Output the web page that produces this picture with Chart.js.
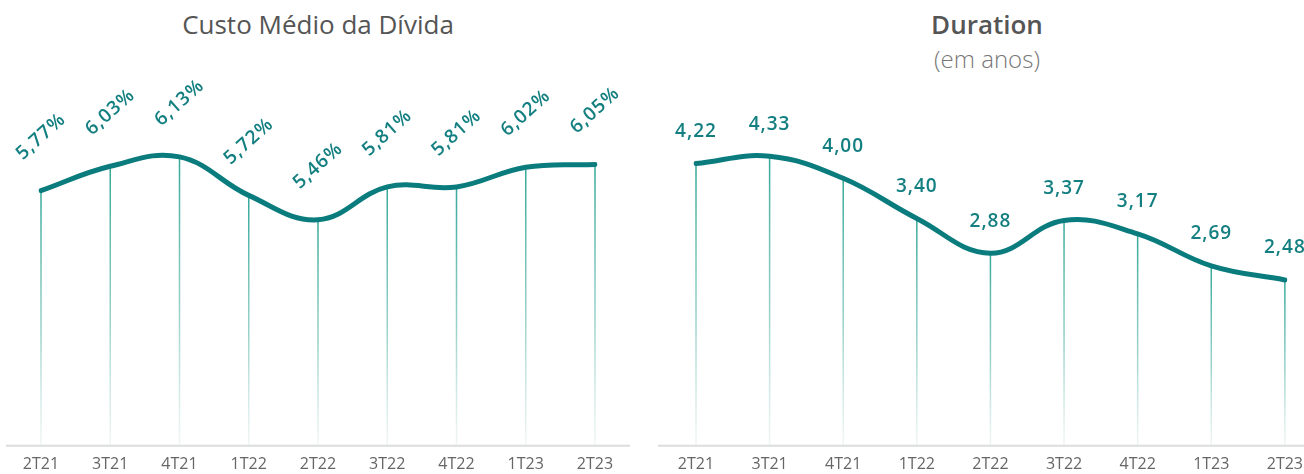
<!DOCTYPE html>
<html lang="pt-BR">
<head>
    <meta charset="UTF-8">
    <title>Custo Médio da Dívida / Duration</title>
    <script src="https://cdn.jsdelivr.net/npm/chart.js"></script>
    <style>
        body {
            margin: 0;
            background: #fff;
            font-family: "Open Sans", Arial, sans-serif;
            width: 1304px;
            height: 474px;
            position: relative;
            overflow: hidden;
        }
        .title {
            position: absolute;
            top: 6px;
            text-align: center;
            color: #555;
            font-size: 26px;
            line-height: 36px;
        }
        .title small {
            display: block;
            font-size: 24px;
            color: #777;
            font-weight: 300;
            line-height: 34px;
        }
        canvas {
            position: absolute;
            top: 0;
        }
    </style>
</head>
<body>
    <div class="title" style="left:0; width:636px;">Custo Médio da Dívida</div>
    <div class="title" style="left:660px; width:654px; font-weight:600;">Duration<small>(em anos)</small></div>

    <canvas id="custoChart" width="640" height="484" style="left:0;"></canvas>
    <canvas id="durationChart" width="662" height="484" style="left:650px;"></canvas>

    <script>
        // quarters on the x axis
        var quarters = ['2T21', '3T21', '4T21', '1T22', '2T22', '3T22', '4T22', '1T23', '2T23'];

        // custo medio da divida (%)
        var custoMedio = [5.77, 6.03, 6.13, 5.72, 5.46, 5.81, 5.81, 6.02, 6.05];

        // duration (anos)
        var duration = [4.22, 4.33, 4.00, 3.40, 2.88, 3.37, 3.17, 2.69, 2.48];

        var lineColor = '#0b7c7d';
        var labelColor = '#137f80';

        function fmt(v, dec) {
            return v.toFixed(dec).replace('.', ',');
        }

        // drop lines, baseline and value labels
        var decorPlugin = {
            id: 'decor',
            beforeDatasetsDraw: function (chart, args, opts) {
                var ctx = chart.ctx;
                var area = chart.chartArea;
                var meta = chart.getDatasetMeta(0);
                ctx.save();
                // baseline
                ctx.strokeStyle = '#dcdcdc';
                ctx.lineWidth = 2;
                ctx.beginPath();
                ctx.moveTo(opts.baseFrom, area.bottom);
                ctx.lineTo(opts.baseTo, area.bottom);
                ctx.stroke();
                // vertical lines
                meta.data.forEach(function (pt) {
                    var g = ctx.createLinearGradient(0, pt.y, 0, area.bottom);
                    g.addColorStop(0, 'rgba(52,168,152,1)');
                    g.addColorStop(0.55, 'rgba(120,195,185,0.75)');
                    g.addColorStop(1, 'rgba(225,238,236,0.5)');
                    ctx.strokeStyle = g;
                    ctx.lineWidth = 1.5;
                    ctx.beginPath();
                    ctx.moveTo(pt.x, pt.y);
                    ctx.lineTo(pt.x, area.bottom - 1);
                    ctx.stroke();
                });
                ctx.restore();
            },
            afterDatasetsDraw: function (chart, args, opts) {
                var ctx = chart.ctx;
                var meta = chart.getDatasetMeta(0);
                var values = chart.data.datasets[0].data;
                ctx.save();
                ctx.fillStyle = labelColor;
                ctx.font = '600 19px "Open Sans"';
                ctx.letterSpacing = '1px';
                ctx.textAlign = 'center';
                ctx.textBaseline = 'middle';
                meta.data.forEach(function (pt, i) {
                    var txt = fmt(values[i], 2) + opts.suffix;
                    ctx.save();
                    ctx.translate(pt.x, pt.y - opts.lift);
                    ctx.rotate(opts.angle * Math.PI / 180);
                    ctx.fillText(txt, 0, 0);
                    ctx.restore();
                });
                ctx.restore();
            }
        };

        function makeChart(id, values, yMin, yMax, pad, decor) {
            return new Chart(document.getElementById(id), {
                type: 'line',
                data: {
                    labels: quarters,
                    datasets: [{
                        data: values,
                        borderColor: lineColor,
                        borderWidth: 5,
                        borderCapStyle: 'round',
                        tension: 0.4,
                        pointRadius: 0,
                        fill: false
                    }]
                },
                options: {
                    responsive: false,
                    animation: false,
                    layout: { padding: pad },
                    plugins: {
                        legend: { display: false },
                        tooltip: { enabled: false },
                        decor: decor
                    },
                    scales: {
                        x: {
                            offset: false,
                            grid: { display: false, drawTicks: false },
                            border: { display: false },
                            ticks: {
                                color: '#666',
                                padding: 9,
                                font: { family: 'Open Sans', size: 16 },
                                maxRotation: 0
                            }
                        },
                        y: {
                            display: false,
                            min: yMin,
                            max: yMax
                        }
                    }
                },
                plugins: [decorPlugin]
            });
        }

        makeChart('custoChart', custoMedio, 3.05, 6.95,
            { top: 80, left: 41, right: 45, bottom: 1 },
            { baseFrom: 6, baseTo: 630, suffix: '%', lift: 54, angle: -42 });

        makeChart('durationChart', duration, 0, 5.47,
            { top: 80, left: 46, right: 24, bottom: 1 },
            { baseFrom: 8, baseTo: 662, suffix: '', lift: 32, angle: 0 });
    </script>
</body>
</html>
